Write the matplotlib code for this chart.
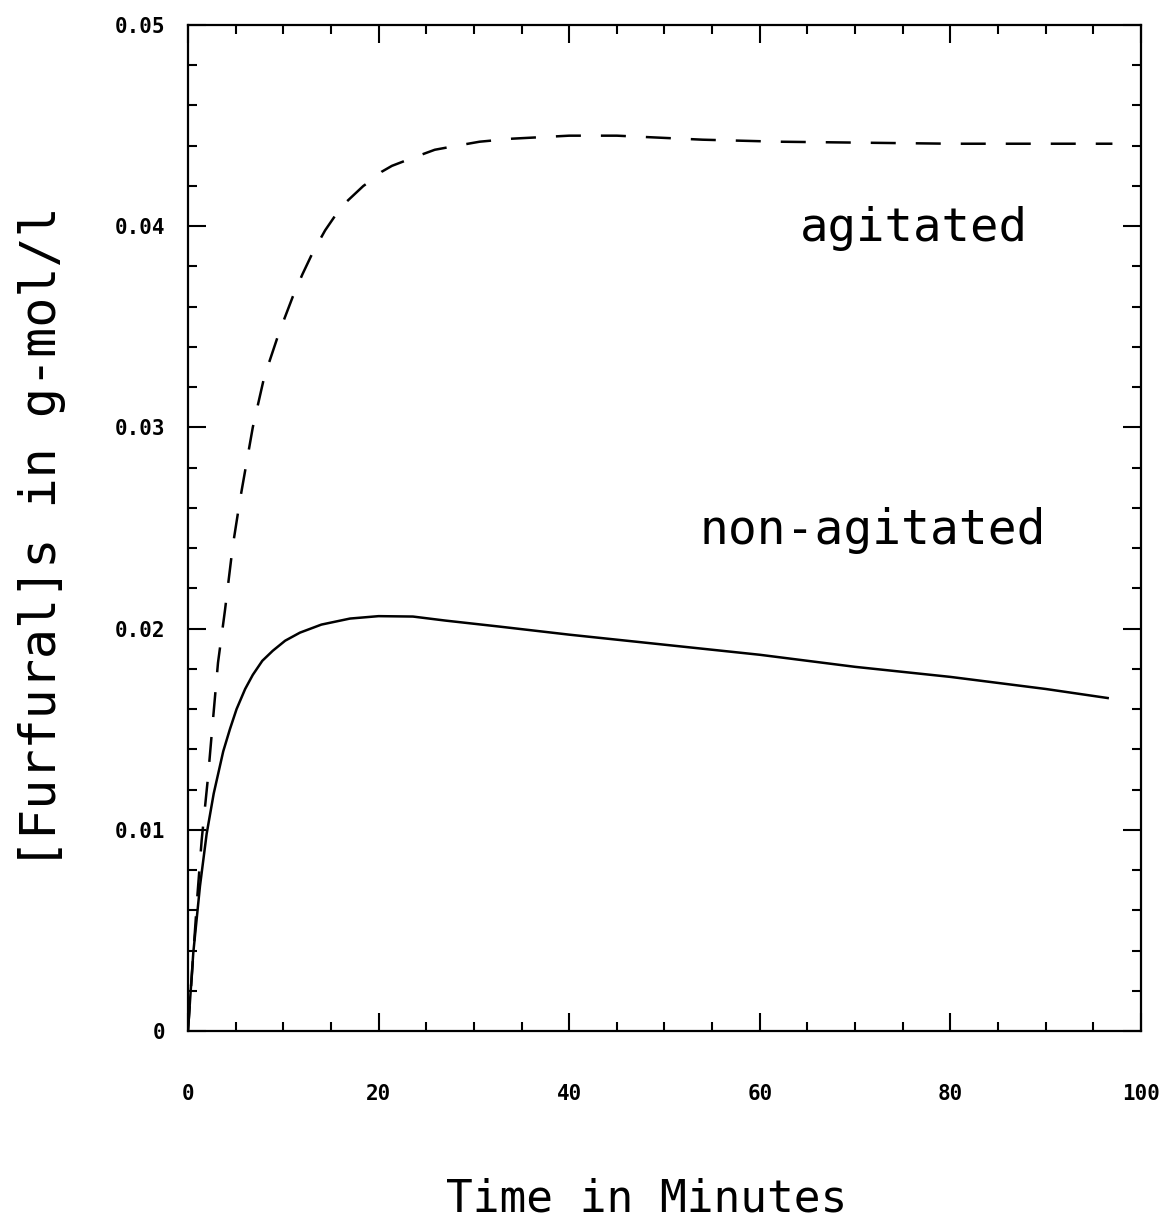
import matplotlib
matplotlib.use("Agg")
import matplotlib.pyplot as plt
from matplotlib.ticker import MultipleLocator, FuncFormatter

# Agitated (dashed)
t_agit = [0, 0.5, 1.0, 1.44, 2.1, 2.5, 3.15, 3.88, 4.7, 5.46, 6.8, 8.0, 9.55, 11.0,
          12.0, 13.1, 14.4, 15.7, 16.6, 17.5, 18.4, 19.3, 20.3, 21.4, 22.5, 23.6,
          25.9, 28.2, 30.6, 34.0, 40.0, 45.0, 54.0, 62.0, 71.0, 80.0, 90.0, 97.0]
c_agit = [0, 0.0034, 0.0068, 0.0095, 0.0126, 0.0148, 0.0183, 0.0209, 0.0241, 0.0264,
          0.0300, 0.0325, 0.0347, 0.0365, 0.0376, 0.0387, 0.0398, 0.0407, 0.0412,
          0.0416, 0.0420, 0.0423, 0.0427, 0.0430, 0.0432, 0.0434, 0.0438, 0.0440,
          0.0442, 0.04435, 0.0445, 0.0445, 0.0443, 0.0442, 0.04415, 0.0441, 0.0441,
          0.0441]

# Non-agitated (solid)
t_non = [0, 0.56, 1.26, 1.96, 2.7, 3.7, 4.4, 5.1, 6.0, 6.8, 7.8, 8.9, 10.2, 11.75,
         14.0, 17.0, 20.0, 23.6, 27.0, 32.7, 40.0, 50.0, 60.0, 70.0, 80.0, 90.0, 96.5]
c_non = [0, 0.0039, 0.0072, 0.0098, 0.0118, 0.0139, 0.0150, 0.0160, 0.0170, 0.0177,
         0.0184, 0.0189, 0.0194, 0.0198, 0.0202, 0.0205, 0.02062, 0.0206, 0.0204,
         0.0201, 0.0197, 0.0192, 0.0187, 0.0181, 0.0176, 0.0170, 0.01655]

x_ticks = [0, 20, 40, 60, 80, 100]
y_ticks = [0, 0.01, 0.02, 0.03, 0.04, 0.05]

fig = plt.figure(figsize=(11.61, 12.2), dpi=100)
ax = fig.add_axes([0.1619, 0.1549, 0.8209, 0.8246])

ax.plot(t_agit, c_agit, color="black", lw=1.8, linestyle=(0, (10, 8)))
ax.plot(t_non, c_non, color="black", lw=1.8)

ax.set_xlim(0, 100)
ax.set_ylim(0, 0.05)
ax.set_xticks(x_ticks)
ax.set_yticks(y_ticks)
ax.xaxis.set_minor_locator(MultipleLocator(5))
ax.yaxis.set_minor_locator(MultipleLocator(0.002))

def yfmt(v, pos):
    if abs(v) < 1e-12:
        return "0"
    return f"{v:.2f}"

ax.yaxis.set_major_formatter(FuncFormatter(yfmt))
ax.xaxis.set_major_formatter(FuncFormatter(lambda v, p: f"{int(round(v))}"))

for s in ax.spines.values():
    s.set_linewidth(1.6)

ax.tick_params(which="both", direction="in", top=True, right=True, width=1.5, colors="black")
ax.tick_params(which="major", length=13)
ax.tick_params(which="minor", length=6.5)
ax.tick_params(axis="x", which="major", pad=38)
ax.tick_params(axis="y", which="major", pad=16)

for lab in ax.get_xticklabels() + ax.get_yticklabels():
    lab.set_fontfamily("DejaVu Sans Mono")
    lab.set_fontweight("bold")
    lab.set_fontsize(15)

ax.set_xlabel("Time in Minutes", fontfamily="DejaVu Sans Mono", fontsize=32)
ax.set_ylabel("[Furfural]s in g-mol/l", fontfamily="DejaVu Sans Mono", fontsize=36)
ax.xaxis.label.set_va("center")
ax.yaxis.label.set_va("center")
ax.xaxis.set_label_coords(0.481, -0.167)
ax.yaxis.set_label_coords(-0.153, 0.49)

ax.text(64.2, 0.0399, "agitated", fontfamily="DejaVu Sans Mono", fontsize=34,
        ha="left", va="center")
ax.text(53.7, 0.0249, "non-agitated", fontfamily="DejaVu Sans Mono", fontsize=34.5,
        ha="left", va="center")

fig.savefig("out.png", dpi=100)
